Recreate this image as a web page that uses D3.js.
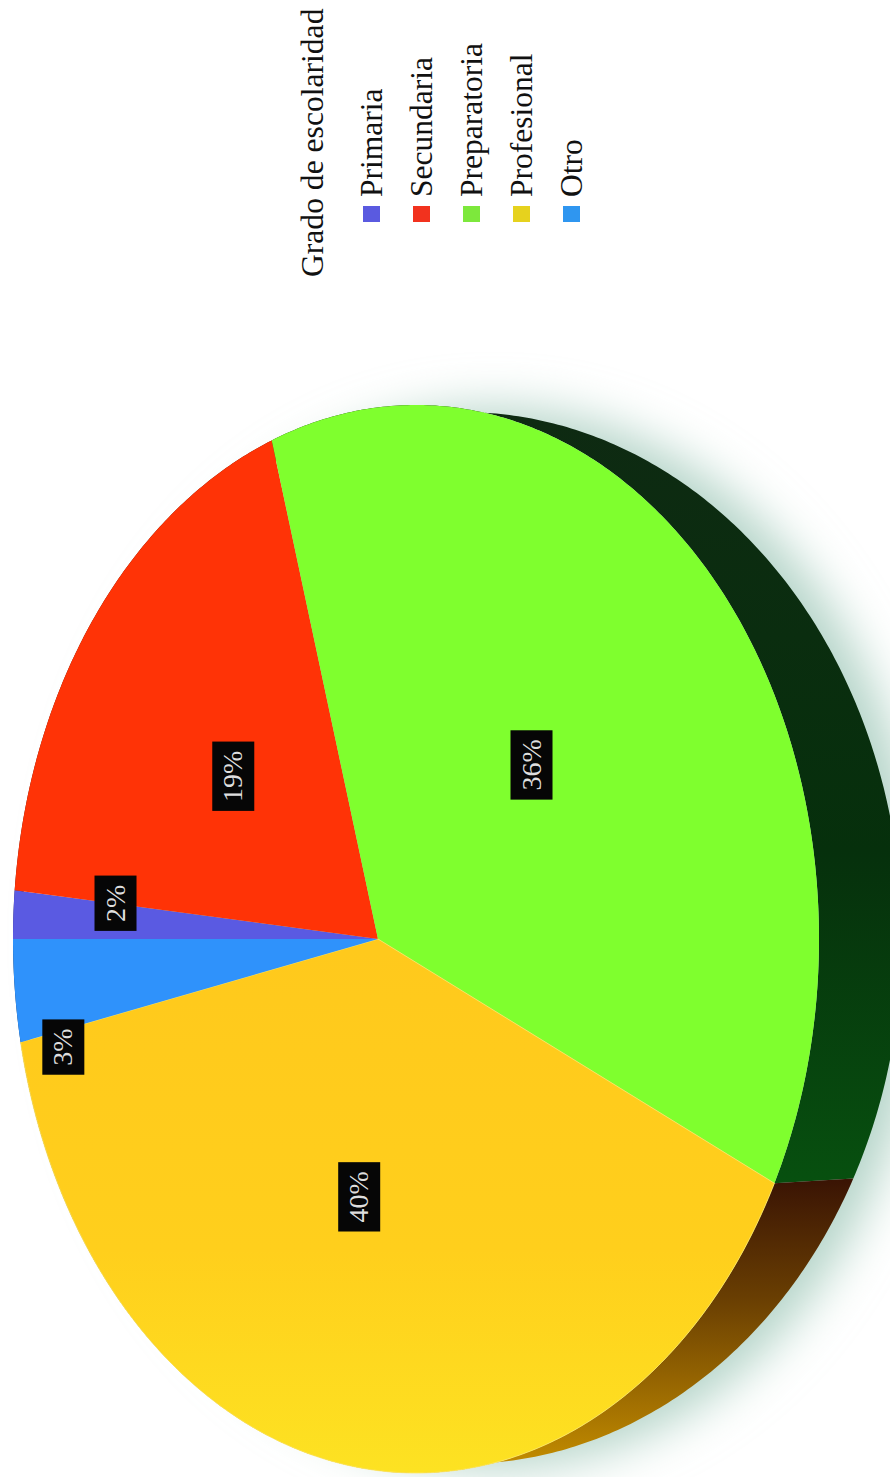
<!DOCTYPE html>
<html>
<head>
<meta charset="utf-8">
<script src="https://d3js.org/d3.v7.min.js"></script>
<style>
    html, body { margin: 0; background: #fff; }
    svg { display: block; }
</style>
</head>
<body>
<div id="chart"></div>
<script>
// Values (slice sizes, the printed labels are rounded)
const legendTitle = 'Grado de escolaridad';
const categories = ['Primaria', 'Secundaria', 'Preparatoria', 'Profesional', 'Otro'];
const percents = [1.6, 19, 36.3, 39.7, 3.4];
const sliceColors = ['#5a5ae2', '#ff3306', '#7fff2e', 'url(#topYellow)', '#2f92fb'];
const swatchColors = ['#5a5ae0', '#f2321e', '#7de83c', '#e6d21e', '#2f96f0'];
const wallColors = ['#1c1c60', '#5a1000', 'url(#wallGreen)', 'url(#wallBrown)', '#0c3060'];

const width = 890;
const height = 1477;

const svg = d3.select('#chart').append('svg')
    .attr('width', width)
    .attr('height', height);

const defs = svg.append('defs');

function verticalGradient(id, stops) {
    const grad = defs.append('linearGradient')
        .attr('id', id)
        .attr('gradientUnits', 'userSpaceOnUse')
        .attr('x1', 0).attr('x2', 0)
        .attr('y1', stops[0][0]).attr('y2', stops[stops.length - 1][0]);
    const span = stops[stops.length - 1][0] - stops[0][0];
    stops.forEach(s => {
        grad.append('stop')
            .attr('offset', (s[0] - stops[0][0]) / span)
            .attr('stop-color', s[1]);
    });
}

verticalGradient('topYellow', [[950, '#ffc91c'], [1250, '#ffcf1c'], [1470, '#fde222']]);
verticalGradient('wallGreen', [[420, '#0e2a12'], [850, '#06300c'], [1185, '#07500f']]);
verticalGradient('wallBrown', [[1180, '#3a1404'], [1300, '#6a3f02'], [1460, '#c08a00']]);

defs.append('filter')
    .attr('id', 'softShadow')
    .attr('x', '-30%').attr('y', '-30%')
    .attr('width', '160%').attr('height', '160%')
    .append('feGaussianBlur')
    .attr('stdDeviation', 24);

// the pie is seen in perspective, so its centre sits left of the ellipse centre
const topX = d3.scaleLinear().domain([-1, 1]).range([13, 819]);
const topY = d3.scaleLinear().domain([-1, 1]).range([405, 1473]);
const wallX = d3.scaleLinear().domain([-1, 1]).range([22, 902]);
const wallY = d3.scaleLinear().domain([-1, 1]).range([412, 1464]);

const skew = (378 - topX(0)) / (topX(1) - topX(0)) * 2 * 0.5;

function project(angle, r) {
    const u = Math.sin(angle) * r;
    const v = -Math.cos(angle) * r;
    const d = 1 + skew * u;
    return [(u + skew) / d, v * Math.sqrt(1 - skew * skew) / d];
}

const pie = d3.pie()
    .sort(null)
    .startAngle(-Math.PI / 2)
    .endAngle(Math.PI * 1.5);

const arcs = pie(percents);
const line = d3.line();

function rimPoints(a) {
    const steps = Math.ceil((a.endAngle - a.startAngle) / 0.01);
    return d3.range(steps + 1).map(i => a.startAngle + (a.endAngle - a.startAngle) * i / steps);
}

function slicePath(a) {
    const pts = rimPoints(a).map(t => {
        const p = project(t, 1);
        return [topX(p[0]), topY(p[1])];
    });
    const c = project(0, 0);
    return line([[topX(c[0]), topY(c[1])], ...pts]) + 'Z';
}

function wallPath(a) {
    const angles = rimPoints(a);
    const inner = angles.map(t => {
        const p = project(t, 1);
        return [topX(p[0]), topY(p[1])];
    });
    const outer = angles.slice().reverse().map(t => {
        const p = project(t, 1);
        return [wallX(p[0]), wallY(p[1])];
    });
    return line([...inner, ...outer]) + 'Z';
}

// soft shadow behind the body, only shows on the right hand side
svg.append('ellipse')
    .attr('cx', wallX(0) + 32)
    .attr('cy', wallY(0))
    .attr('rx', (wallX(1) - wallX(-1)) / 2 - 10)
    .attr('ry', (wallY(1) - wallY(-1)) / 2 + 4)
    .attr('fill', '#b4d4c8')
    .attr('filter', 'url(#softShadow)');

svg.append('g').selectAll('path')
    .data(arcs)
    .join('path')
    .attr('d', wallPath)
    .attr('fill', (d, i) => wallColors[i]);

svg.append('g').selectAll('path')
    .data(arcs)
    .join('path')
    .attr('d', slicePath)
    .attr('fill', (d, i) => sliceColors[i])
    .attr('stroke', (d, i) => i === 3 ? '#ffe866' : 'none')
    .attr('stroke-width', 0.8);

// percent labels: at mid radius, the small slices pushed out by hand
const labelNudge = [[-72, -23], [3, 2], [-4, 5], [3, -5], [-125, 81]];
const labelBoxW = 42;
const labelPad = 18;

const labels = svg.append('g').selectAll('g')
    .data(arcs)
    .join('g')
    .attr('transform', (d, i) => {
        const p = project((d.startAngle + d.endAngle) / 2, 0.5);
        return `translate(${topX(p[0]) + labelNudge[i][0]},${topY(p[1]) + labelNudge[i][1]})`;
    });

const labelBoxes = labels.append('rect')
    .attr('x', -labelBoxW / 2)
    .attr('width', labelBoxW)
    .attr('fill', '#060606');

const labelTexts = labels.append('text')
    .attr('transform', 'rotate(-90)')
    .attr('text-anchor', 'middle')
    .attr('y', 9)
    .attr('font-family', '"Liberation Serif", serif')
    .attr('font-size', 28)
    .attr('fill', '#dedede')
    .text(d => Math.round(d.data) + '%');

// box follows the text length, so 2% and 3% come out shorter
labelBoxes.each(function(d, i) {
    const h = labelTexts.nodes()[i].getComputedTextLength() + labelPad;
    d3.select(this).attr('y', -h / 2).attr('height', h);
});

// legend, rotated like the rest of the page
const legendX = d3.scalePoint().domain(categories).range([382, 582]);

const legendFont = '"Liberation Serif", serif';

svg.append('text')
    .attr('transform', 'translate(323,277) rotate(-90)')
    .attr('font-family', legendFont)
    .attr('font-size', 31.6)
    .attr('fill', '#111')
    .text(legendTitle);

const legend = svg.append('g').selectAll('g')
    .data(categories)
    .join('g');

legend.append('rect')
    .attr('x', d => legendX(d) - 19)
    .attr('y', 206)
    .attr('width', 17)
    .attr('height', 16)
    .attr('fill', (d, i) => swatchColors[i]);

legend.append('text')
    .attr('transform', d => `translate(${legendX(d)},197) rotate(-90)`)
    .attr('font-family', legendFont)
    .attr('font-size', 31.5)
    .attr('fill', '#111')
    .text(d => d);
</script>
</body>
</html>
